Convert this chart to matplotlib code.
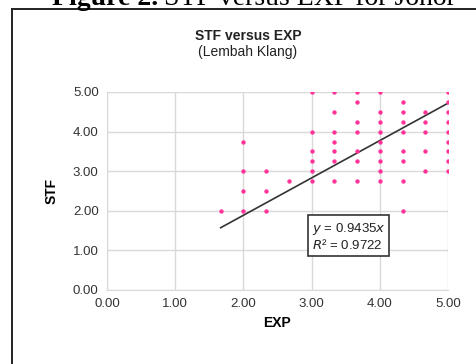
import matplotlib
matplotlib.use("Agg")
import matplotlib.pyplot as plt
import numpy as np

plt.rcParams["font.family"] = ["Liberation Sans", "DejaVu Sans"]

# survey responses, grouped by EXP score (column of points)
EXP_LEVELS = [5 / 3, 2.0, 7 / 3, 8 / 3, 3.0, 10 / 3, 11 / 3, 4.0, 13 / 3, 14 / 3, 5.0]
STF_BY_EXP = [
    [2.0],
    [3.75, 3.0, 2.5, 2.0],
    [3.0, 2.5, 2.0],
    [2.75],
    [5.0, 4.0, 3.5, 3.25, 3.0, 2.75],
    [5.0, 4.5, 4.0, 3.75, 3.5, 3.25, 2.75],
    [5.0, 4.75, 4.25, 4.0, 3.5, 3.25, 2.75],
    [5.0, 4.5, 4.25, 4.0, 3.75, 3.5, 3.25, 3.0, 2.75],
    [4.75, 4.5, 4.25, 4.0, 3.5, 3.25, 2.75, 2.0],
    [4.5, 4.25, 4.0, 3.5, 3.0],
    [5.0, 4.75, 4.5, 4.25, 4.0, 3.75, 3.5, 3.25, 3.0],
]
SLOPE = 0.9435
R2 = 0.9722
TICKS = [0, 1, 2, 3, 4, 5]

exp = np.concatenate([[x] * len(s) for x, s in zip(EXP_LEVELS, STF_BY_EXP)])
stf = np.concatenate(STF_BY_EXP)

W, H = 476, 364
fig = plt.figure(figsize=(W / 100, H / 100), dpi=100)

# frame of the embedded chart (only left and top edges fall inside the crop)
fig.add_artist(plt.Line2D([12 / W, 12 / W], [0, 1 - 9 / H], color="#222222", lw=1.4))
fig.add_artist(plt.Line2D([12 / W, 1], [1 - 9 / H, 1 - 9 / H], color="#222222", lw=1.4))

# document caption, cut by the crop
fig.text(158 / W, 1 - 5 / H, "Figure 2.", ha="right", va="baseline",
         fontsize=20, family="Liberation Serif", fontweight="bold")
fig.text(164 / W, 1 - 5 / H, "STF versus EXP for Johor", ha="left", va="baseline",
         fontsize=20, family="Liberation Serif")

ax = fig.add_axes([107 / W, 1 - 290 / H, (448 - 107) / W, (290 - 92) / H])
ax.scatter(exp, stf, s=10, color="#ff3399", zorder=3, linewidths=0)
xs = np.array([min(EXP_LEVELS), max(EXP_LEVELS)])
ax.plot(xs, SLOPE * xs, color="#333333", lw=1.2, zorder=2)

ax.set_xlim(0, 5)
ax.set_ylim(0, 5)
ax.set_xticks(TICKS)
ax.set_yticks(TICKS)
ax.set_xticklabels([f"{t:.2f}" for t in TICKS], fontsize=9.5, color="#333333")
ax.set_yticklabels([f"{t:.2f}" for t in TICKS], fontsize=9.5, color="#333333")
ax.tick_params(length=0, pad=6)
ax.grid(True, color="#d9d9d9", lw=1)
ax.set_axisbelow(True)
for name, sp in ax.spines.items():
    sp.set_visible(name in ("left", "bottom"))
    sp.set_color("#d9d9d9")

ax.set_xlabel("EXP", fontsize=10, fontweight="bold", labelpad=4)
ax.set_ylabel("STF", fontsize=10, fontweight="bold", labelpad=10)

ax.text(3.0, 1.35, f"$y$ = {SLOPE}$x$\n$R$² = {R2}", fontsize=9.5, va="center",
        ha="left", color="#222222", linespacing=1.1,
        bbox=dict(boxstyle="square,pad=0.3", fc="white", ec="#333333", lw=1.2))

fig.text(248 / W, 1 - 36 / H, "STF versus EXP", ha="center", va="center",
         fontsize=10, fontweight="bold", color="#222222")
fig.text(248 / W, 1 - 52 / H, "(Lembah Klang)", ha="center", va="center",
         fontsize=10, color="#222222")

fig.savefig("out.png", dpi=100)
